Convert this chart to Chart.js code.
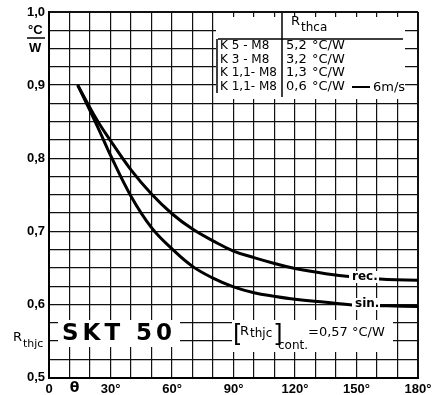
<!DOCTYPE html>
<html>
<head>
<meta charset="utf-8">
<script src="https://cdn.jsdelivr.net/npm/chart.js@4.4.1/dist/chart.umd.min.js"></script>
<style>
  html, body { margin: 0; padding: 0; background: #fff; }
  #wrap { width: 436px; height: 395px; }
</style>
</head>
<body>
<div id="wrap"><canvas id="rthChart"></canvas></div>
<script>
// conduction angle (deg) and thermal resistance (°C/W)
const angles = [14, 20, 25, 30, 40, 50, 60, 70, 80, 90, 100, 110, 120, 135, 150, 165, 180];
const recValues = [0.900, 0.869, 0.845, 0.824, 0.784, 0.751, 0.724, 0.703, 0.687, 0.673, 0.664, 0.656, 0.649, 0.642, 0.637, 0.634, 0.633];
const sinValues = [0.900, 0.865, 0.835, 0.804, 0.748, 0.705, 0.676, 0.652, 0.636, 0.624, 0.616, 0.611, 0.607, 0.603, 0.599, 0.598, 0.597];

const xLabelAngles = [0, 30, 60, 90, 120, 150, 180];
const yLabelValues = [0.5, 0.6, 0.7, 0.8, 0.9, 1.0];

// heatsink table
const heatsinks = ['K 5 - M8', 'K 3 - M8', 'K 1,1- M8', 'K 1,1- M8'];
const rthcaValues = ['5,2', '3,2', '1,3', '0,6'];

const FONT = 'Liberation Sans';
const TFONT = 'DejaVu Sans';

// grid every 10 deg and every 0.025 °C/W
const xGrid = [];
for (let a = 0; a <= 180; a += 10) xGrid.push(a);
const yGrid = [];
for (let i = 0; i <= 20; i++) yGrid.push(Math.round((0.5 + i * 0.025) * 1000) / 1000);

function sub(ctx, main, small, x, y, size, smallSize, drop) {
    ctx.font = size + 'px "' + TFONT + '"';
    ctx.fillText(main, x, y);
    const w = ctx.measureText(main).width;
    ctx.font = smallSize + 'px "' + TFONT + '"';
    ctx.fillText(small, x + w + 1, y + drop);
    return x + w + 1 + ctx.measureText(small).width;
}

const annotations = {
    id: 'annotations',
    afterDraw(chart) {
        const ctx = chart.ctx;
        const xs = chart.scales.x;
        ctx.save();
        ctx.fillStyle = '#fff';
        // blank areas behind the texts
        ctx.fillRect(216, 17, 189, 82);
        ctx.fillRect(58, 320, 122, 27);
        ctx.fillRect(232, 320, 161, 32);
        ctx.fillRect(349, 271, 30, 12);
        ctx.fillRect(352, 298, 28, 12);

        ctx.fillStyle = '#000';
        ctx.strokeStyle = '#000';
        ctx.textBaseline = 'middle';
        ctx.textAlign = 'left';

        // y unit
        ctx.font = 'bold 13px "' + FONT + '"';
        ctx.fillText('°C', 28, 30);
        ctx.fillText('W', 29, 48);
        ctx.lineWidth = 1.5;
        ctx.beginPath(); ctx.moveTo(27, 38); ctx.lineTo(45, 38); ctx.stroke();

        // R thjc axis label
        sub(ctx, 'R', 'thjc', 13, 338, 13, 11, 6);

        // theta
        ctx.font = 'bold 14px "' + TFONT + '"';
        ctx.textAlign = 'center';
        ctx.fillText('θ', xs.getPixelForValue(12.5), 388);
        ctx.textAlign = 'left';

        // table
        ctx.lineWidth = 1.5;
        ctx.beginPath();
        ctx.moveTo(282, 13); ctx.lineTo(282, 97);
        ctx.moveTo(218, 39); ctx.lineTo(403, 39);
        ctx.moveTo(217, 39); ctx.lineTo(217, 93);
        ctx.stroke();
        sub(ctx, 'R', 'thca', 291, 22, 13, 12, 6);
        const rowY = [46, 60, 73, 87];
        heatsinks.forEach((h, i) => {
            ctx.font = '12px "' + TFONT + '"';
            ctx.fillText(h, 220, rowY[i]);
            ctx.font = '13px "' + TFONT + '"';
            ctx.fillText(rthcaValues[i], 286, rowY[i]);
            ctx.fillText('°C/W', 312, rowY[i]);
        });
        ctx.lineWidth = 2;
        ctx.beginPath(); ctx.moveTo(352, 87); ctx.lineTo(370, 87); ctx.stroke();
        ctx.fillText('6m/s', 373, 88);

        // SKT 50
        ctx.font = 'bold 23px "DejaVu Sans"';
        ctx.letterSpacing = '4px';
        ctx.fillText('SKT 50', 62, 334);
        ctx.letterSpacing = '0px';

        // [Rthjc]cont. = 0,57 °C/W
        ctx.font = '24px "' + TFONT + '"';
        ctx.fillText('[', 233, 336);
        const e = sub(ctx, 'R', 'thjc', 240, 332, 13, 12, 2);
        ctx.font = '24px "' + TFONT + '"';
        ctx.fillText(']', e + 1, 336);
        ctx.font = '12px "' + TFONT + '"';
        ctx.fillText('cont.', 278, 346);
        ctx.font = '13px "' + TFONT + '"';
        ctx.fillText('=0,57 °C/W', 308, 333);

        // curve labels
        ctx.font = 'bold 12px "' + TFONT + '"';
        ctx.fillText('rec.', 352, 277);
        ctx.fillText('sin.', 355, 304);
        ctx.restore();
    }
};

const near = (list, v) => list.some((t) => Math.abs(t - v) < 1e-6);

new Chart(document.getElementById('rthChart'), {
    type: 'line',
    data: {
        datasets: [
            {
                label: 'rec.',
                data: angles.map((a, i) => ({ x: a, y: recValues[i] })),
                borderColor: '#000',
                borderWidth: 3,
                pointRadius: 0,
                tension: 0.4,
            },
            {
                label: 'sin.',
                data: angles.map((a, i) => ({ x: a, y: sinValues[i] })),
                borderColor: '#000',
                borderWidth: 3,
                pointRadius: 0,
                tension: 0.4,
            },
        ],
    },
    options: {
        responsive: true,
        maintainAspectRatio: false,
        animation: false,
        layout: { padding: { left: 0, top: 12, right: 18, bottom: 0 } },
        plugins: { legend: { display: false }, tooltip: { enabled: false } },
        scales: {
            x: {
                type: 'linear',
                min: 0,
                max: 180,
                afterFit: (s) => { s.height = 17.5; },
                afterBuildTicks: (s) => { s.ticks = xGrid.map((v) => ({ value: v })); },
                grid: {
                    color: '#111',
                    lineWidth: (c) => (c.tick && (c.tick.value === 0 || c.tick.value === 180) ? 2 : 1.2),
                    drawTicks: false,
                },
                border: { color: '#000', width: 2 },
                ticks: {
                    autoSkip: false,
                    maxRotation: 0,
                    padding: 4,
                    color: '#000',
                    font: { family: FONT, size: 13, weight: 'bold' },
                    callback: (v) => (near(xLabelAngles, v) ? (v === 0 ? '0' : v + '°') : ''),
                },
            },
            y: {
                min: 0.5,
                max: 1.0,
                afterFit: (s) => { s.width = 49; },
                afterBuildTicks: (s) => { s.ticks = yGrid.map((v) => ({ value: v })); },
                grid: {
                    color: '#111',
                    lineWidth: (c) => (c.tick && (c.tick.value === 0.5 || c.tick.value === 1) ? 2 : 1.2),
                    drawTicks: false,
                },
                border: { color: '#000', width: 2 },
                ticks: {
                    autoSkip: false,
                    padding: 4,
                    color: '#000',
                    font: { family: FONT, size: 13, weight: 'bold' },
                    callback: (v) => (near(yLabelValues, v) ? v.toFixed(1).replace('.', ',') : ''),
                },
            },
        },
    },
    plugins: [annotations],
});
</script>
</body>
</html>
